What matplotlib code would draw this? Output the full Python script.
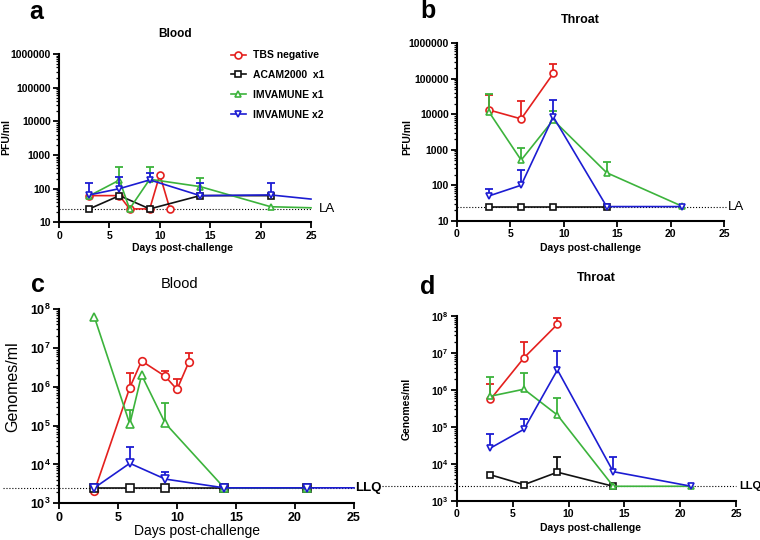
import math

import matplotlib
matplotlib.use("Agg")
import matplotlib.pyplot as plt
from matplotlib.ticker import FixedLocator, FuncFormatter, LogLocator, NullFormatter

plt.rcParams["font.family"] = ["Liberation Sans", "DejaVu Sans"]
plt.rcParams["mathtext.fontset"] = "custom"
plt.rcParams["mathtext.rm"] = "Liberation Sans"
plt.rcParams["mathtext.bf"] = "Liberation Sans:bold"

SERIES = ["TBS negative", "ACAM2000  x1", "IMVAMUNE x1", "IMVAMUNE x2"]
COLORS = ["#e4201e", "#111111", "#3cb33c", "#1c1cd2"]
MARKERS = ["o", "s", "^", "v"]

# ---- panel a: Blood, PFU/ml ----
a_days = [[3, 6, 7, 9, 10, 11], [3, 6, 9, 14, 21], [3, 6, 7, 9, 14, 21, 25], [3, 6, 9, 14, 21, 25]]
a_vals = [[62, 62, 25, 25, 260, 25], [25, 62, 25, 62, 62],
          [61, 180, 25, 190, 115, 29, 27], [65, 100, 182, 62, 65, 49]]
a_err = [[None] * 6, [None] * 5,
         [None, 430, None, 440, 205, None, None], [152, 215, 290, 152, 152, None]]

# ---- panel b: Throat, PFU/ml ----
b_days = [[3, 6, 9], [3, 6, 9, 14], [3, 6, 9, 14, 21], [3, 6, 9, 14, 21]]
b_vals = [[13200, 7400, 141000], [25, 25, 25, 25],
          [11500, 510, 6900, 225, 26], [50, 100, 8500, 25, 25]]
b_err = [[36000, 23000, 257000], [None] * 4,
         [37000, 1100, 12600, 455, None], [77, 260, 26000, None, None]]

# ---- panel c: Blood, genomes/ml ----
c_days = [[3, 6, 7, 9, 10, 11], [3, 6, 9, 14, 21], [3, 6, 7, 9, 14, 21], [3, 6, 9, 14, 21, 25]]
c_vals = [[2070, 9.5e5, 4.6e6, 1.85e6, 8.5e5, 4.3e6], [2500, 2500, 2500, 2500, 2500],
          [6.2e7, 1.1e5, 2.0e6, 1.15e5, 2500, 2500], [2500, 1.07e4, 4200, 2500, 2500, 2500]]
c_err = [[None, 2.3e6, None, 2.6e6, 1.55e6, 7.4e6], [None] * 5,
         [None, 2.5e5, None, 3.9e5, None, None], [None, 2.8e4, 6500, None, None, None]]

# ---- panel d: Throat, genomes/ml ----
d_days = [[3, 6, 9], [3, 6, 9, 14], [3, 6, 9, 14, 21], [3, 6, 9, 14, 21]]
d_vals = [[5.6e5, 7.4e6, 6.0e7], [5100, 2760, 6000, 2500],
          [6.8e5, 1.05e6, 2.1e5, 2500, 2500], [2.7e4, 8.7e4, 3.5e6, 6200, 2500]]
d_err = [[1.45e6, 2.0e7, 9.1e7], [None, None, 1.55e4, None],
         [2.2e6, 2.8e6, 5.9e5, None, None], [6.3e4, 1.6e5, 1.15e7, 1.5e4, None]]

LA_PFU = 25
LLQ_GEN = 2500
X_TICKS = [0, 5, 10, 15, 20, 25]

W, H = 760, 540
fig = plt.figure(figsize=(7.6, 5.4), dpi=100)


def px_axes(x0, y0, x1, y1):
    return fig.add_axes([x0 / W, 1 - y1 / H, (x1 - x0) / W, (y1 - y0) / H])


def ftext(x, y, s, **kw):
    fig.text(x / W, 1 - y / H, s, ha="center", va="center", **kw)


def draw_panel(ax, days, vals, errs, ms):
    lines = []
    for i in range(4):
        col = COLORS[i]
        ex = [d for d, e in zip(days[i], errs[i]) if e is not None]
        elo = [v for v, e in zip(vals[i], errs[i]) if e is not None]
        ehi = [e for e in errs[i] if e is not None]
        if ex:
            ax.vlines(ex, elo, ehi, color=col, lw=1.3, zorder=2 + i)
            ax.plot(ex, ehi, ls="none", marker="_", ms=6, mew=1.3, color=col, zorder=2 + i)
        # no marker where the line just runs on to the axis end
        keep = [k for k, d in enumerate(days[i]) if d < 25]
        ln, = ax.plot(days[i], vals[i], color=col, lw=1.2, marker=MARKERS[i], ms=ms,
                      mfc="white", mec=col, mew=1.2, markevery=keep, zorder=3 + i,
                      label=SERIES[i], clip_on=False)
        lines.append(ln)
    return lines


def style_axes(ax, ylim, tick_fs, sci):
    ax.set_yscale("log")
    ax.set_xlim(0, 25)
    ax.set_ylim(*ylim)
    for s in ("top", "right"):
        ax.spines[s].set_visible(False)
    for s in ("left", "bottom"):
        ax.spines[s].set_linewidth(1.5)
    ax.xaxis.set_major_locator(FixedLocator(X_TICKS))
    ax.yaxis.set_major_locator(LogLocator(base=10, numticks=12))
    ax.yaxis.set_minor_locator(LogLocator(base=10, subs=range(2, 10), numticks=12))
    ax.yaxis.set_minor_formatter(NullFormatter())
    if sci:
        ax.yaxis.set_major_formatter(FuncFormatter(
            lambda v, p: r"$\mathbf{10^{%d}}$" % round(math.log10(v))))
    else:
        ax.yaxis.set_major_formatter(FuncFormatter(lambda v, p: f"{int(round(v))}"))
    ax.tick_params(axis="both", which="major", direction="out", length=4, width=1.3,
                   labelsize=tick_fs, pad=2)
    ax.tick_params(axis="y", which="minor", direction="out", length=2, width=0.9)
    for lab in ax.get_xticklabels() + ax.get_yticklabels():
        lab.set_fontweight("bold")


def limit_line(ax, yval, x0, x1, label, lx, fs, weight):
    tr = ax.get_yaxis_transform()
    ax.plot([x0, x1], [yval, yval], transform=tr, color="black", lw=0.8, ls=":",
            clip_on=False, zorder=1)
    ax.text(lx, yval, label, transform=tr, fontsize=fs, fontweight=weight,
            ha="left", va="center")


# panel a
ax_a = px_axes(59, 54, 311, 222.3)
style_axes(ax_a, (10, 1e6), 7.5, False)
limit_line(ax_a, LA_PFU, 0, 1.0, "LA", 1.03, 9.5, "normal")
lines_a = draw_panel(ax_a, a_days, a_vals, a_err, 5)
fig.legend(handles=lines_a, loc="upper left", bbox_to_anchor=(226 / W, 1 - 45 / H),
           frameon=False, prop={"size": 7.5, "weight": "bold"}, handlelength=1.4,
           handletextpad=0.7, labelspacing=0.95, borderpad=0)

# panel b
ax_b = px_axes(457, 43.3, 724.3, 220.7)
style_axes(ax_b, (10, 1e6), 7.5, False)
limit_line(ax_b, LA_PFU, 0, 1.005, "LA", 1.015, 9.5, "normal")
draw_panel(ax_b, b_days, b_vals, b_err, 5)

# panel c
ax_c = px_axes(59, 309, 354, 503.3)
style_axes(ax_c, (1e3, 1e8), 9, True)
limit_line(ax_c, LLQ_GEN, -0.19, 1.0, "LLQ", 1.005, 9.5, "bold")
draw_panel(ax_c, c_days, c_vals, c_err, 5.5)

# panel d
ax_d = px_axes(457, 316, 736, 501)
style_axes(ax_d, (1e3, 1e8), 7.5, True)
limit_line(ax_d, LLQ_GEN, -0.27, 1.0, "LLQ", 1.01, 8, "bold")
draw_panel(ax_d, d_days, d_vals, d_err, 5)

# titles, axis labels, panel letters
ftext(175, 34, "Blood", fontsize=8.5, fontweight="bold")
ftext(580, 20, "Throat", fontsize=9, fontweight="bold")
ftext(180, 284, "Blood", fontsize=10.5)
ftext(596, 278, "Throat", fontsize=9, fontweight="bold")

ftext(183, 248, "Days post-challenge", fontsize=7.5, fontweight="bold")
ftext(590, 248, "Days post-challenge", fontsize=7.5, fontweight="bold")
ftext(197, 531, "Days post-challenge", fontsize=10)
ftext(591, 528, "Days post-challenge", fontsize=7.5, fontweight="bold")

ftext(6, 137, "PFU/ml", fontsize=7.5, fontweight="bold", rotation=90)
ftext(407, 137, "PFU/ml", fontsize=7.5, fontweight="bold", rotation=90)
ftext(13, 387, "Genomes/ml", fontsize=11.5, rotation=90)
ftext(407, 409, "Genomes/ml", fontsize=7.5, fontweight="bold", rotation=90)

ftext(36, 12, "a", fontsize=18, fontweight="bold")
ftext(428, 11, "b", fontsize=18, fontweight="bold")
ftext(38, 285, "c", fontsize=18, fontweight="bold")
ftext(428, 287, "d", fontsize=18, fontweight="bold")

fig.savefig("out.png", dpi=100)
